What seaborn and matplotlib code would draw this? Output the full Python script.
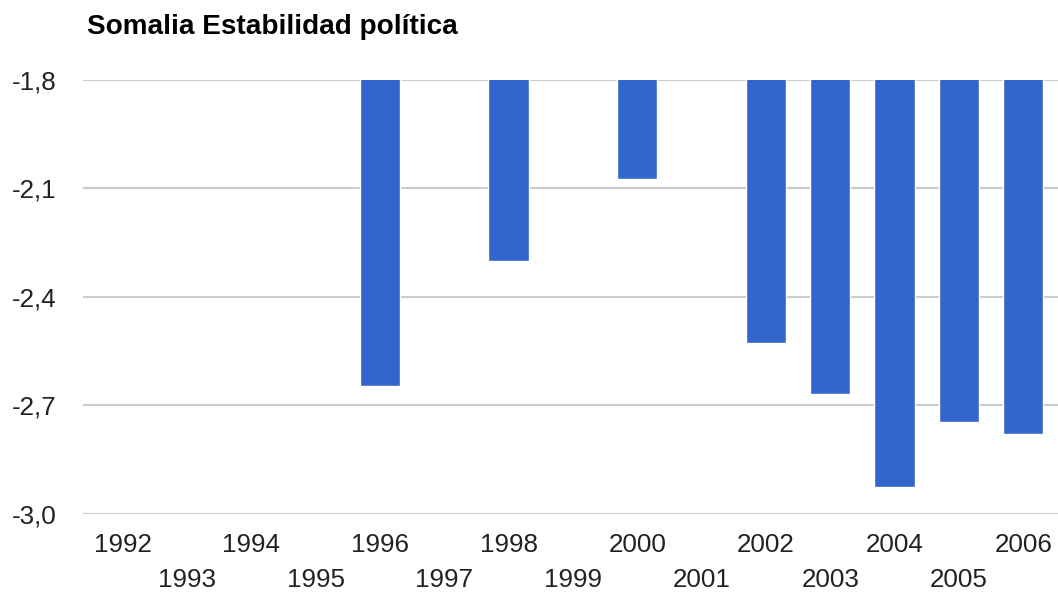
import numpy as np
import pandas as pd
import matplotlib
matplotlib.use("Agg")
import matplotlib.pyplot as plt
from matplotlib.font_manager import FontProperties
from matplotlib.textpath import TextPath
import seaborn as sns

# Political stability index for Somalia by year (missing years have no estimate)
years = ["1992", "1993", "1994", "1995", "1996", "1997", "1998", "1999",
         "2000", "2001", "2002", "2003", "2004", "2005", "2006"]
values = [np.nan, np.nan, np.nan, np.nan, -2.646, np.nan, -2.30, np.nan,
          -2.076, np.nan, -2.528, -2.668, -2.925, -2.747, -2.780]
y_ticks = [-1.8, -2.1, -2.4, -2.7, -3.0]
y_tick_labels = ["-1,8", "-2,1", "-2,4", "-2,7", "-3,0"]
title = "Somalia Estabilidad política"

df = pd.DataFrame({"year": years, "value": values})

sns.set_theme(style="white")
family = ["Liberation Sans", "DejaVu Sans"]
plt.rcParams["font.family"] = family

DPI = 100


def size_for_width(text, target_px, weight="normal"):
    fp = FontProperties(family=family, weight=weight)
    w = TextPath((0, 0), text, size=10, prop=fp).get_extents().width
    return target_px * 72 / DPI * 10 / w


# a little larger than a pure width fit, so the glyphs reach a similar height
tick_size = size_for_width("1992", 50.6) * 1.08
title_size = size_for_width(title, 347, weight="bold") * 1.06

W, H = 1058, 596
fig = plt.figure(figsize=(W / DPI, H / DPI), dpi=DPI)
ax = fig.add_axes([83.3 / W, 1 - 514 / H, (1058 - 83.3) / W, (514 - 79.5) / H])

sns.barplot(data=df, x="year", y="value", order=years, color="#3366cc",
            saturation=1, width=0.627, errorbar=None, ax=ax, zorder=3)

ax.set_ylim(-3.0, -1.8)
ax.set_xlim(-0.611, 14.54)
ax.set_yticks(y_ticks)
ax.set_yticklabels(y_tick_labels)
for g in y_ticks:
    ax.axhline(g, color="#cccccc", lw=1.5, zorder=1)

for s in ax.spines.values():
    s.set_visible(False)
ax.set_xlabel("")
ax.set_ylabel("")
ax.tick_params(axis="both", length=0, labelsize=tick_size, labelcolor="#222222")
ax.tick_params(axis="y", pad=19)
for i, tick in enumerate(ax.xaxis.get_major_ticks()):
    tick.set_pad(14 if i % 2 == 0 else 39)

fig.text(86.7 / W, 1 - 34.3 / H, title, fontsize=title_size, fontweight="bold",
         color="#000000", ha="left", va="baseline")

fig.savefig("out.png", dpi=DPI, facecolor="white")
